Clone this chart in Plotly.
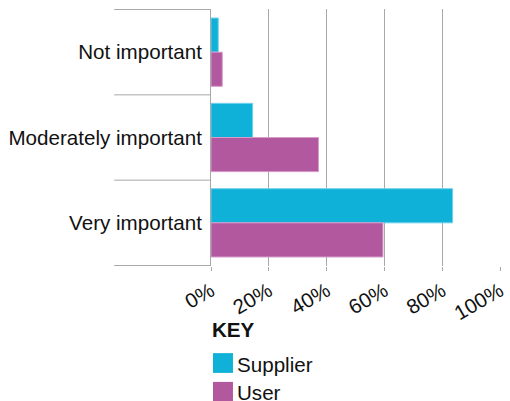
import plotly.graph_objects as go

categories = ["Not important", "Moderately important", "Very important"]
supplier = [2.5, 14.4, 83.6]
user = [3.9, 37.2, 59.5]
tick_vals = [0, 20, 40, 60, 80, 100]
tick_text = ["0%", "20%", "40%", "60%", "80%", "100%"]
series_names = ["Supplier", "User"]

SUPPLIER_COLOR = "#0fb1d9"
USER_COLOR = "#b2589e"
GRID = "#a8a8a8"
FONT = "Liberation Sans, Arial, Helvetica, sans-serif"
FS = 20.6
colors = [SUPPLIER_COLOR, USER_COLOR]

fig = go.Figure()
fig.add_trace(go.Bar(
    y=categories, x=supplier, orientation="h", name=series_names[0],
    marker=dict(color=SUPPLIER_COLOR, line=dict(color="#6fd0ea", width=1)),
))
fig.add_trace(go.Bar(
    y=categories, x=user, orientation="h", name=series_names[1],
    marker=dict(color=USER_COLOR, line=dict(color="#d69ccb", width=1)),
))

# category separator lines extending left of the axis
for i in range(len(categories) + 1):
    fig.add_shape(
        type="line", xref="paper", yref="y",
        x0=-0.335, x1=0, y0=i - 0.5, y1=i - 0.5,
        line=dict(color=GRID, width=1),
    )

# key below the chart: title, swatches and labels
fig.add_annotation(
    text="<b>KEY</b>", xref="paper", yref="paper", x=-0.002, y=-0.248,
    xanchor="left", yanchor="middle", showarrow=False,
    font=dict(size=FS, color="#111"),
)
swatch_rows = [(-0.339, -0.416, -0.384), (-0.451, -0.529, -0.494)]
for name, color, (top, bottom, mid) in zip(series_names, colors, swatch_rows):
    fig.add_shape(
        type="rect", xref="paper", yref="paper",
        x0=0.007, x1=0.076, y0=bottom, y1=top,
        fillcolor=color, line=dict(width=0),
    )
    fig.add_annotation(
        text=name, xref="paper", yref="paper", x=0.084, y=mid,
        xanchor="left", yanchor="middle", showarrow=False,
        font=dict(size=FS, color="#111"),
    )

fig.update_layout(
    width=510, height=401,
    margin=dict(l=211, r=10, t=9, b=135, autoexpand=False),
    paper_bgcolor="white", plot_bgcolor="white",
    barmode="group", bargap=0.2, bargroupgap=0,
    showlegend=False,
    font=dict(family=FONT, size=FS, color="#111"),
    xaxis=dict(
        range=[0, 100], tickvals=tick_vals, ticktext=tick_text,
        tickangle=-30, showgrid=True, gridcolor=GRID, gridwidth=1,
        zeroline=False, showline=False, ticks="outside", ticklen=4,
        tickcolor=GRID, tickfont=dict(size=FS), automargin=False,
    ),
    yaxis=dict(
        autorange="reversed", showgrid=False, zeroline=False,
        showline=True, linecolor=GRID, linewidth=1, ticks="",
        ticklabelstandoff=4, tickfont=dict(size=FS), automargin=False,
    ),
)

fig.write_html("out.html")
